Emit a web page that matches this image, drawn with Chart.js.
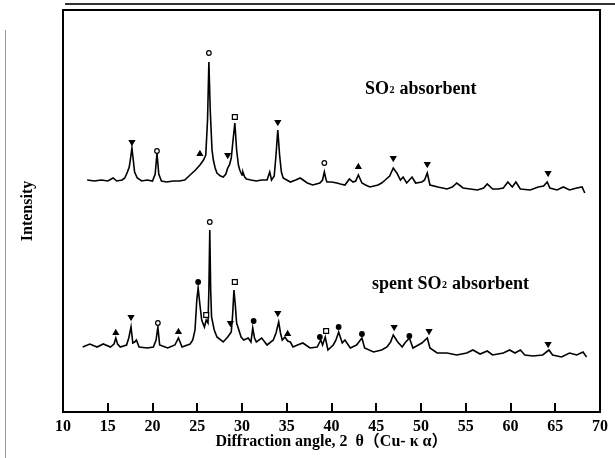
<!DOCTYPE html>
<html>
<head>
<meta charset="utf-8">
<script src="https://cdn.jsdelivr.net/npm/chart.js@4.4.0/dist/chart.umd.min.js"></script>
<style>
  html, body { margin: 0; padding: 0; background: #fff; }
  #wrap { width: 615px; height: 458px; }
</style>
</head>
<body>
<div id="wrap"><canvas id="xrdChart" width="615" height="458"></canvas></div>
<script>
// 2-theta tick labels
const tickValues = [10, 15, 20, 25, 30, 35, 40, 45, 50, 55, 60, 65, 70];

// SO2 absorbent pattern (2 theta, intensity a.u.)
const absTheta = [12.7, 13.5, 14.3, 15.0, 15.6, 16.0, 16.6, 16.9, 17.2, 17.4, 17.55, 17.7, 17.85, 18.0, 18.3, 18.8,
  19.4, 20.0, 20.3, 20.5, 20.7, 21.0, 21.6, 22.3, 23.0, 23.6, 24.2, 24.8, 25.3, 25.7, 25.95, 26.15, 26.3, 26.45,
  26.65, 26.8, 27.0, 27.2, 27.6, 27.9, 28.2, 28.4, 28.6, 28.8, 29.0, 29.2, 29.4, 29.6, 29.75, 30.0, 30.1, 30.3,
  30.5, 31.0, 31.6, 32.2, 32.8, 33.1, 33.3, 33.6, 33.8, 34.0, 34.2, 34.4, 34.6, 35.0, 35.4, 36.0, 36.5, 37.3,
  37.9, 38.7, 39.0, 39.2, 39.4, 39.5, 40.0, 40.6, 41.0, 41.5, 42.0, 42.4, 42.7, 43.0, 43.4, 43.8, 44.3, 45.2,
  45.6, 46.0, 46.5, 46.9, 47.3, 47.7, 48.0, 48.4, 49.0, 49.4, 50.1, 50.4, 50.7, 51.0, 51.9, 52.9, 53.5, 54.0,
  54.7, 55.5, 56.3, 57.0, 57.4, 58.0, 58.6, 59.2, 59.7, 60.2, 60.6, 61.1, 62.2, 63.1, 63.7, 64.1, 64.4, 65.2,
  65.9, 66.6, 67.4, 68.0, 68.3];
const absCounts = [232, 231, 232, 231, 234, 231, 232, 234, 240, 245, 254, 264, 252, 240, 234, 231,
  232, 231, 238, 259, 238, 231, 230, 231, 231, 232, 237, 242, 247, 252, 257, 292, 350, 302,
  262, 252, 244, 239, 236, 235, 238, 244, 247, 254, 272, 289, 262, 247, 242, 237, 240, 235,
  233, 232, 231, 232, 232, 240, 232, 236, 257, 282, 257, 240, 234, 232, 230, 232, 234, 229,
  227, 229, 232, 240, 232, 230, 230, 229, 228, 227, 233, 230, 231, 237, 229, 227, 225, 227,
  229, 232, 236, 244, 239, 232, 235, 229, 235, 229, 230, 232, 239, 227, 225, 223, 225, 229,
  224, 223, 222, 224, 228, 223, 223, 224, 230, 225, 230, 223, 222, 225, 226, 230, 224, 222,
  225, 222, 224, 225, 219];

// spent SO2 absorbent pattern
const spentTheta = [12.2, 13.0, 13.8, 14.5, 15.3, 15.7, 15.9, 16.1, 16.4, 17.1, 17.35, 17.6, 17.8, 18.0, 18.2, 18.5,
  19.4, 20.1, 20.4, 20.6, 20.8, 21.7, 22.5, 22.9, 23.3, 24.2, 24.5, 24.75, 24.95, 25.1, 25.3, 25.5, 25.8, 26.0,
  26.2, 26.3, 26.4, 26.5, 26.6, 26.9, 27.2, 27.9, 28.4, 28.8, 28.95, 29.1, 29.25, 29.4, 29.9, 30.2, 30.7, 31.0,
  31.2, 31.4, 31.6, 32.2, 32.8, 33.5, 33.8, 34.1, 34.3, 34.5, 34.8, 35.1, 35.4, 35.7, 36.2, 36.8, 37.6, 38.4,
  38.8, 39.0, 39.3, 39.6, 40.2, 40.5, 40.8, 41.2, 41.5, 42.1, 42.8, 43.4, 43.7, 44.7, 45.6, 46.2, 46.6, 46.9,
  47.4, 47.9, 48.2, 48.7, 49.1, 49.7, 50.1, 50.7, 51.0, 51.8, 52.9, 54.0, 55.1, 55.8, 56.6, 57.4, 58.0, 59.2,
  59.9, 60.5, 61.1, 61.6, 62.5, 63.6, 64.3, 64.7, 65.7, 66.6, 67.4, 68.1, 68.5];
const spentCounts = [65, 68, 65, 68, 65, 68, 74, 68, 65, 67, 74, 85, 69, 70, 72, 65,
  64, 65, 72, 85, 67, 64, 67, 74, 65, 68, 72, 82, 112, 124, 107, 92, 85, 92,
  89, 122, 182, 122, 95, 82, 75, 70, 75, 80, 97, 122, 107, 89, 75, 72, 74, 70,
  84, 74, 70, 74, 67, 72, 79, 90, 79, 72, 75, 71, 70, 65, 67, 69, 64, 65,
  72, 67, 75, 62, 67, 72, 80, 69, 72, 64, 67, 74, 64, 60, 62, 65, 70, 77,
  70, 65, 69, 74, 64, 67, 69, 74, 64, 59, 59, 57, 59, 62, 58, 61, 57, 59,
  62, 59, 62, 57, 56, 57, 62, 57, 55, 59, 57, 60, 55];

// phase markers, SO2 absorbent
const absDownTri = [[17.7, 270], [28.4, 257], [34.0, 290], [46.9, 254], [50.7, 248], [64.2, 239]];
const absCircle = [[20.5, 261], [26.3, 359], [39.2, 249]];
const absUpTri = [[25.3, 258], [43.0, 245]];
const absSquare = [[29.2, 295]];

// phase markers, spent SO2 absorbent
const spentUpTri = [[15.9, 79], [22.9, 80], [35.1, 78]];
const spentDownTri = [[17.6, 95], [28.7, 89], [34.0, 99], [47.0, 85], [50.9, 81], [64.2, 68]];
const spentCircle = [[20.6, 89], [26.4, 190]];
const spentDot = [[25.1, 130], [31.3, 91], [38.7, 75], [40.8, 85], [43.4, 78], [48.7, 76]];
const spentSquare = [[26.0, 97], [29.2, 130], [39.4, 81]];

const serif = "'Liberation Serif', 'DejaVu Serif', 'Noto Sans CJK SC', serif";

function toPoints(xs, ys) {
  return xs.map((x, i) => ({ x: x, y: ys[i] }));
}
function pairs(list) {
  return list.map(p => ({ x: p[0], y: p[1] }));
}
function lineSet(xs, ys) {
  return {
    data: toPoints(xs, ys), borderColor: '#000', borderWidth: 1.6,
    pointRadius: 0, tension: 0, fill: false, order: 2
  };
}
function markerSet(list, style, filled, radius, rotation) {
  return {
    data: pairs(list), showLine: false, pointStyle: style, pointRadius: radius,
    pointRotation: rotation || 0, borderColor: '#000', borderWidth: 1.2,
    backgroundColor: filled ? '#000' : '#fff', order: 1
  };
}

// inner tick marks along the bottom of the box
function drawInnerTicks(chart) {
  const ctx = chart.ctx;
  const xs = chart.scales.x;
  const bottom = chart.scales.y.getPixelForValue(0);
  ctx.save();
  ctx.strokeStyle = '#000';
  ctx.lineWidth = 2;
  ctx.lineCap = 'butt';
  ctx.beginPath();
  tickValues.forEach(v => {
    const px = Math.round(xs.getPixelForValue(v));
    ctx.moveTo(px, bottom);
    ctx.lineTo(px, bottom - 9);
  });
  ctx.stroke();
  ctx.restore();
}

// box, scan edges and sample labels
const framePlugin = {
  id: 'frame',
  afterDatasetsDraw(chart) {
    drawInnerTicks(chart);
  },
  afterDraw(chart) {
    const ctx = chart.ctx;
    const xs = chart.scales.x;
    const ys = chart.scales.y;
    const left = xs.getPixelForValue(10);
    const right = xs.getPixelForValue(70);
    const top = ys.getPixelForValue(402);
    const bottom = ys.getPixelForValue(0);
    ctx.save();
    ctx.fillStyle = '#999';
    ctx.fillRect(5, 30, 1, 428);
    ctx.fillStyle = '#333';
    ctx.fillRect(65, 3, 550, 2);

    ctx.strokeStyle = '#000';
    ctx.lineWidth = 2;
    ctx.strokeRect(left, top, right - left, bottom - top);
    ctx.restore();

    drawInnerTicks(chart);

    ctx.save();
    function label(before, x, y) {
      ctx.fillStyle = '#000';
      ctx.textBaseline = 'alphabetic';
      ctx.textAlign = 'left';
      ctx.font = 'bold 18px ' + serif;
      const t1 = before + 'SO';
      ctx.fillText(t1, x, y);
      let cx = x + ctx.measureText(t1).width;
      ctx.font = 'bold 10px ' + serif;
      ctx.fillText('2', cx + 0.5, y - 1);
      cx += ctx.measureText('2').width + 1;
      ctx.font = 'bold 18px ' + serif;
      ctx.fillText(' absorbent', cx, y);
    }
    label('', 365, 94);
    label('spent ', 372, 289);
    ctx.restore();
  }
};

document.addEventListener('DOMContentLoaded', function () {
  const ctx = document.getElementById('xrdChart');
  new Chart(ctx, {
    type: 'line',
    data: {
      datasets: [
        lineSet(absTheta, absCounts),
        lineSet(spentTheta, spentCounts),
        markerSet(absDownTri, 'triangle', true, 3, 180),
        markerSet(absCircle, 'circle', false, 2.3),
        markerSet(absUpTri, 'triangle', true, 3),
        markerSet(absSquare, 'rect', false, 3.5),
        markerSet(spentUpTri, 'triangle', true, 3),
        markerSet(spentDownTri, 'triangle', true, 3, 180),
        markerSet(spentCircle, 'circle', false, 2.3),
        markerSet(spentDot, 'circle', true, 2.3),
        markerSet(spentSquare, 'rect', false, 3.5)
      ]
    },
    options: {
      responsive: false,
      animation: false,
      devicePixelRatio: 1,
      layout: { padding: { left: 0, right: 15, top: 10, bottom: 0 } },
      plugins: { legend: { display: false }, tooltip: { enabled: false } },
      scales: {
        x: {
          type: 'linear',
          position: 'bottom',
          min: 10,
          max: 70,
          afterBuildTicks: (scale) => { scale.ticks = tickValues.map(v => ({ value: v })); },
          afterFit: (scale) => { scale.height = 46; },
          border: { display: false },
          grid: { display: false, drawTicks: false },
          ticks: { color: '#000', padding: 5, maxRotation: 0, autoSkip: false, font: { family: serif, size: 16, weight: 'bold' } },
          title: {
            display: true,
            text: 'Diffraction angle, 2  θ（Cu- κ α）',
            color: '#000',
            font: { family: serif, size: 16, weight: 'bold' },
            padding: { top: 0, bottom: 7 }
          }
        },
        y: {
          type: 'linear',
          position: 'left',
          min: 0,
          max: 402,
          afterFit: (scale) => { scale.width = 63; },
          border: { display: false },
          grid: { display: false },
          ticks: { display: false },
          title: {
            display: true,
            text: 'Intensity',
            color: '#000',
            font: { family: serif, size: 16, weight: 'bold' },
            padding: { top: 18, bottom: 0 }
          }
        }
      }
    },
    plugins: [framePlugin]
  });
});
</script>
</body>
</html>
